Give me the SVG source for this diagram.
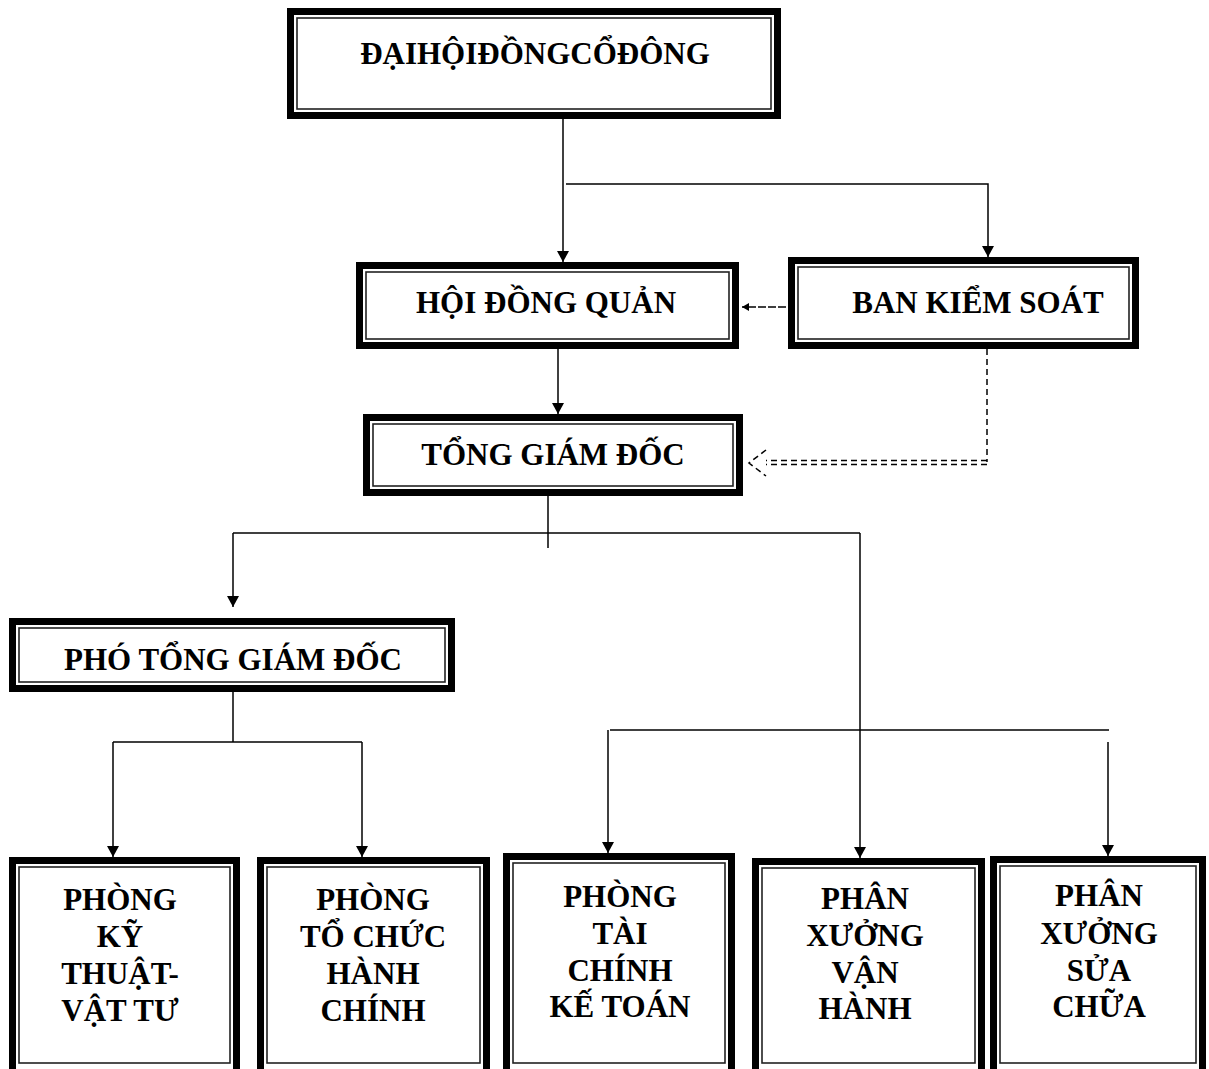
<svg xmlns="http://www.w3.org/2000/svg" width="1209" height="1069" viewBox="0 0 1209 1069">
<style>
.outer{fill:#fff;stroke:#000;stroke-width:7}
.inner{fill:none;stroke:#222;stroke-width:1.6}
.t{font-family:"Liberation Serif","Times New Roman",serif;font-weight:bold;font-size:31px;fill:#000;text-anchor:middle}
.c{fill:none;stroke:#000;stroke-width:1.5}
.d{fill:none;stroke:#000;stroke-width:1.5;stroke-dasharray:6,4}
</style>
<defs>
<marker id="ah" markerWidth="12" markerHeight="12" refX="11" refY="6" orient="auto" markerUnits="userSpaceOnUse">
<path d="M0,0 L11,6 L0,12 Z" fill="#000"/>
</marker>
<marker id="ahs" markerWidth="8" markerHeight="8" refX="7" refY="4" orient="auto" markerUnits="userSpaceOnUse">
<path d="M0,0 L7,4 L0,8 Z" fill="#000"/>
</marker>
</defs>
<g id="connectors">
<line class="c" x1="563" y1="119" x2="563" y2="262" marker-end="url(#ah)"/>
<polyline class="c" points="566,184 988,184 988,257" marker-end="url(#ah)"/>
<line class="c" x1="786" y1="307" x2="742" y2="307" stroke-dasharray="8,2" marker-end="url(#ahs)"/>
<line class="c" x1="558" y1="349" x2="558" y2="414" marker-end="url(#ah)"/>
<line class="d" x1="987" y1="349" x2="987" y2="462"/>
<line class="d" x1="987" y1="460.5" x2="766" y2="460.5"/>
<line class="d" x1="987" y1="464.5" x2="766" y2="464.5"/>
<polyline class="d" points="766,450 749,463 766,476" stroke-dasharray="5,3"/>
<line class="c" x1="548" y1="496" x2="548" y2="548"/>
<line class="c" x1="233" y1="533" x2="860" y2="533"/>
<line class="c" x1="233" y1="533" x2="233" y2="607" marker-end="url(#ah)"/>
<line class="c" x1="860" y1="533" x2="860" y2="858" marker-end="url(#ah)"/>
<line class="c" x1="233" y1="692" x2="233" y2="742"/>
<line class="c" x1="113" y1="742" x2="362" y2="742"/>
<line class="c" x1="113" y1="742" x2="113" y2="857" marker-end="url(#ah)"/>
<line class="c" x1="362" y1="742" x2="362" y2="857" marker-end="url(#ah)"/>
<line class="c" x1="610" y1="730" x2="1109" y2="730"/>
<line class="c" x1="608" y1="730" x2="608" y2="853" marker-end="url(#ah)"/>
<line class="c" x1="1108" y1="742" x2="1108" y2="856" marker-end="url(#ah)"/>
</g>
<g id="n-dhdcd">
<rect class="outer" x="290.5" y="11.5" width="487" height="104"/>
<rect class="inner" x="297" y="18" width="474" height="91"/>
<text class="t" x="535" y="64" font-size="32">ĐẠIHỘIĐỒNGCỔĐÔNG</text>
</g>
<g id="n-hdq">
<rect class="outer" x="359.5" y="265.5" width="376" height="80"/>
<rect class="inner" x="366" y="272" width="363" height="67"/>
<text class="t" x="546" y="313" font-size="32">HỘI ĐỒNG QUẢN</text>
</g>
<g id="n-bks">
<rect class="outer" x="791.5" y="260.5" width="344" height="85"/>
<rect class="inner" x="798" y="267" width="331" height="72"/>
<text class="t" x="978" y="313" font-size="32">BAN KIỂM SOÁT</text>
</g>
<g id="n-tgd">
<rect class="outer" x="366.5" y="417.5" width="373" height="75"/>
<rect class="inner" x="373" y="424" width="360" height="62"/>
<text class="t" x="553" y="465" font-size="32">TỔNG GIÁM ĐỐC</text>
</g>
<g id="n-ptgd">
<rect class="outer" x="12.5" y="621.5" width="439" height="67"/>
<rect class="inner" x="19" y="628" width="426" height="54"/>
<text class="t" x="233" y="670" font-size="32">PHÓ TỔNG GIÁM ĐỐC</text>
</g>
<g id="n-ktvt">
<rect class="outer" x="12.5" y="860.5" width="224" height="218"/>
<rect class="inner" x="19" y="867" width="211" height="196"/>
<text class="t" x="120" y="910">PHÒNG</text>
<text class="t" x="120" y="947">KỸ</text>
<text class="t" x="120" y="984">THUẬT-</text>
<text class="t" x="120" y="1021">VẬT TƯ</text>
</g>
<g id="n-tchc">
<rect class="outer" x="260.5" y="860.5" width="226" height="218"/>
<rect class="inner" x="267" y="867" width="213" height="196"/>
<text class="t" x="373" y="910">PHÒNG</text>
<text class="t" x="373" y="947">TỔ CHỨC</text>
<text class="t" x="373" y="984">HÀNH</text>
<text class="t" x="373" y="1021">CHÍNH</text>
</g>
<g id="n-tckt">
<rect class="outer" x="506.5" y="856.5" width="225" height="222"/>
<rect class="inner" x="513" y="863" width="212" height="200"/>
<text class="t" x="620" y="907">PHÒNG</text>
<text class="t" x="620" y="944">TÀI</text>
<text class="t" x="620" y="981">CHÍNH</text>
<text class="t" x="620" y="1017">KẾ TOÁN</text>
</g>
<g id="n-pxvh">
<rect class="outer" x="755.5" y="861.5" width="226" height="217"/>
<rect class="inner" x="762" y="868" width="213" height="195"/>
<text class="t" x="865" y="909">PHÂN</text>
<text class="t" x="865" y="946">XƯỞNG</text>
<text class="t" x="865" y="983">VẬN</text>
<text class="t" x="865" y="1019">HÀNH</text>
</g>
<g id="n-pxsc">
<rect class="outer" x="993.5" y="859.5" width="209" height="219"/>
<rect class="inner" x="1000" y="866" width="196" height="197"/>
<text class="t" x="1099" y="906">PHÂN</text>
<text class="t" x="1099" y="944">XƯỞNG</text>
<text class="t" x="1099" y="981">SỬA</text>
<text class="t" x="1099" y="1017">CHỮA</text>
</g>
</svg>
